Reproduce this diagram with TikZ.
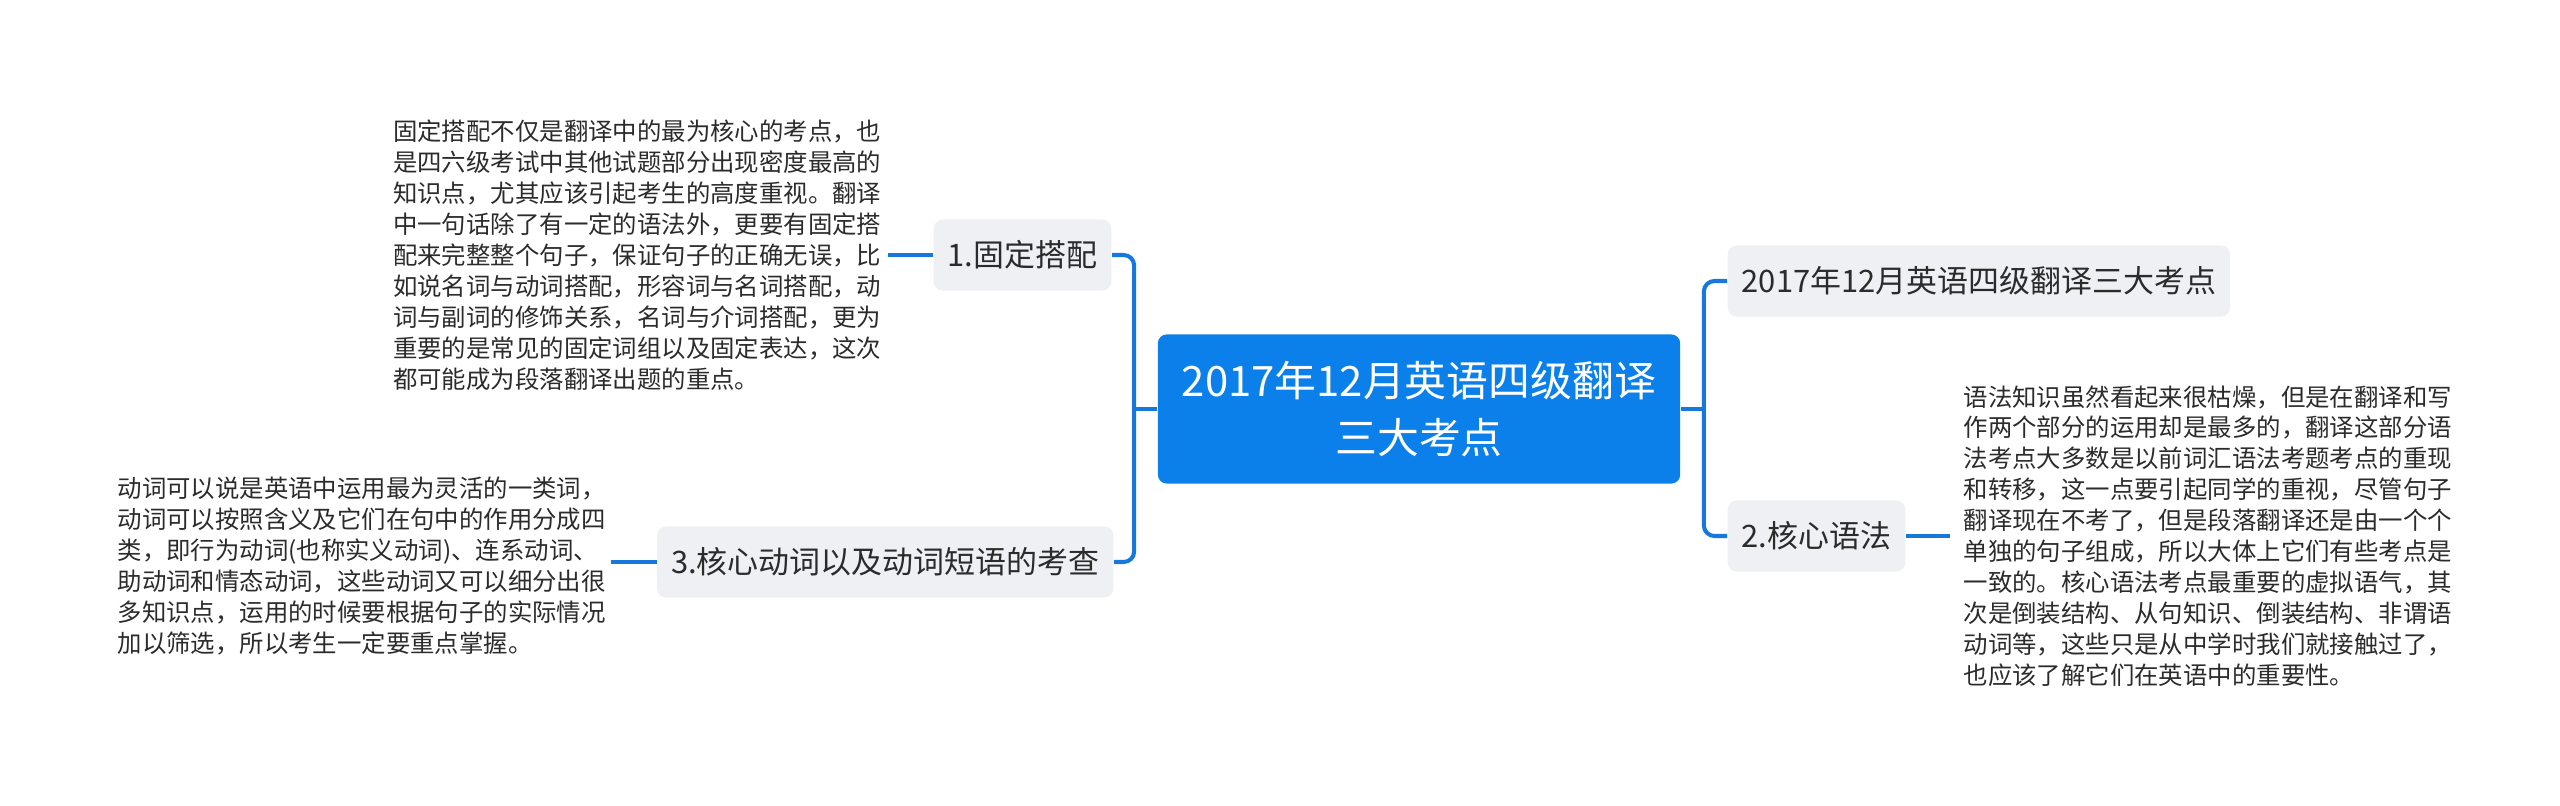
\documentclass[tikz,border=0pt]{standalone}
\usepackage{fontspec}
\setmainfont{Noto Sans CJK SC}
\usetikzlibrary{positioning}
\definecolor{mapblue}{HTML}{0B80EA}
\definecolor{linkblue}{HTML}{1677DD}
\definecolor{topicgray}{HTML}{EEF0F3}
\definecolor{inktext}{HTML}{2B2B2B}
\begin{document}
\begin{tikzpicture}[x=0.01cm,y=-0.01cm,root/.style={shape=rectangle,rounded corners=2.5pt,fill=mapblue,text=white,minimum width=5.22cm,minimum height=1.49cm,align=center,font=\fontsize{11.9}{16}\selectfont},topic/.style={shape=rectangle,rounded corners=2.5pt,fill=topicgray,text=inktext,minimum height=0.71cm,inner xsep=0.14cm,font=\fontsize{8.8}{10.5}\selectfont},leaf/.style={align=left,inner sep=0pt,text=inktext,font=\fontsize{6.94}{8.8}\selectfont},link/.style={draw=linkblue,line width=1.15pt},elbow/.style={link,rounded corners=3pt}]
\useasboundingbox (0,0) rectangle (2560,806);

\node[root] (R) at (1419,409) {2017年12月英语四级翻译\\三大考点};

\node[topic,anchor=east] (A) at (1112,255) {1.固定搭配};
\node[topic,anchor=east] (C) at (1114,562) {3.核心动词以及动词短语的考查};
\node[topic,anchor=west] (T) at (1727,281) {2017年12月英语四级翻译三大考点};
\node[topic,anchor=west] (B) at (1727,536) {2.核心语法};

\node[leaf,left=0.51cm of A] (Aleaf) {固定搭配不仅是翻译中的最为核心的考点，也\\是四六级考试中其他试题部分出现密度最高的\\知识点，尤其应该引起考生的高度重视。翻译\\中一句话除了有一定的语法外，更要有固定搭\\配来完整整个句子，保证句子的正确无误，比\\如说名词与动词搭配，形容词与名词搭配，动\\词与副词的修饰关系，名词与介词搭配，更为\\重要的是常见的固定词组以及固定表达，这次\\都可能成为段落翻译出题的重点。};
\node[leaf,left=0.5cm of C,yshift=-0.04cm] (Cleaf) {动词可以说是英语中运用最为灵活的一类词，\\动词可以按照含义及它们在句中的作用分成四\\类，即行为动词(也称实义动词)、连系动词、\\助动词和情态动词，这些动词又可以细分出很\\多知识点，运用的时候要根据句子的实际情况\\加以筛选，所以考生一定要重点掌握。};
\node[leaf,right=0.57cm of B] (Bleaf) {语法知识虽然看起来很枯燥，但是在翻译和写\\作两个部分的运用却是最多的，翻译这部分语\\法考点大多数是以前词汇语法考题考点的重现\\和转移，这一点要引起同学的重视，尽管句子\\翻译现在不考了，但是段落翻译还是由一个个\\单独的句子组成，所以大体上它们有些考点是\\一致的。核心语法考点最重要的虚拟语气，其\\次是倒装结构、从句知识、倒装结构、非谓语\\动词等，这些只是从中学时我们就接触过了，\\也应该了解它们在英语中的重要性。};

% branches
\draw[link] (R.west) -- ++(-23,0) coordinate (Lj);
\draw[elbow] (Lj) |- (A.east);
\draw[elbow] (Lj) |- (C.east);
\draw[link] (R.east) -- ++(23,0) coordinate (Rj);
\draw[elbow] (Rj) |- (T.west);
\draw[elbow] (Rj) |- (B.west);

% leaves
\draw[link,shorten >=0.06cm] (A.west) -- (Aleaf.east);
\draw[link,shorten >=0.05cm] (C.west) -- (Cleaf.east |- C.west);
\draw[link,shorten >=0.13cm] (B.east) -- (Bleaf.west);
\end{tikzpicture}
\end{document}
